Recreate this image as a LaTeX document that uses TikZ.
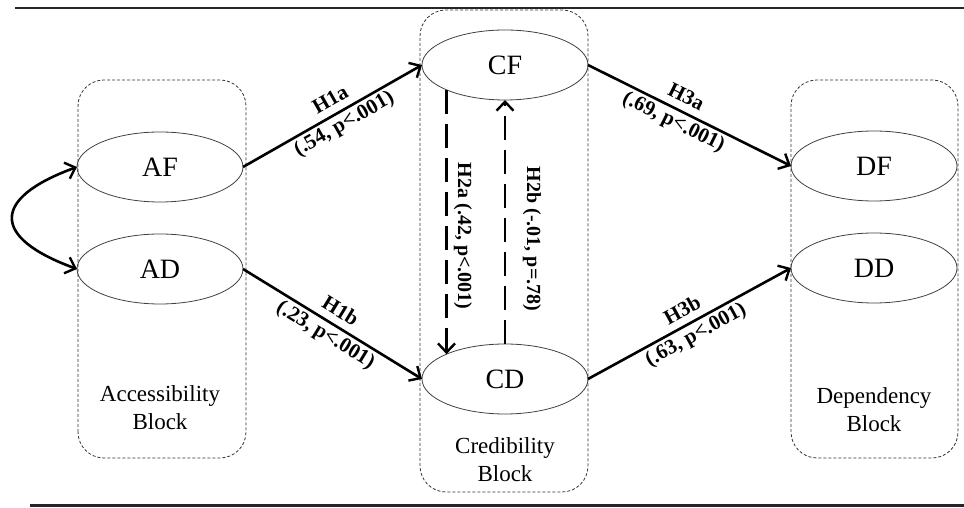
\documentclass[tikz,border=0pt]{standalone}
\usepackage{fontspec}
\setmainfont{Liberation Serif}
\usetikzlibrary{shapes.geometric,arrows.meta}

\tikzset{
  ell/.style={ellipse,draw=black!75,line width=0.8pt,minimum width=166pt,minimum height=70pt,inner sep=0pt,outer sep=0pt,font=\fontsize{28}{30}\selectfont},
  blok/.style={draw=black!80,line width=0.8pt,dash pattern=on 3pt off 2pt,rounded corners=26pt},
  blabel/.style={align=center,font=\fontsize{23}{28}\selectfont},
  hyp/.style={line width=2.6pt,-{Straight Barb[length=9pt,width=17pt,line width=2.4pt]}},
  elabel/.style={midway,sloped,align=center,inner sep=1pt,font=\fontsize{21}{27}\selectfont\bfseries},
  vlabel/.style={rotate=-90,inner sep=1pt,font=\fontsize{20}{24}\selectfont\bfseries},
}

\begin{document}
\begin{tikzpicture}[x=1pt,y=1pt]
\useasboundingbox (0,0) rectangle (964,508);
%Линии сверху и снизу
\draw[line width=2pt,black!85] (15,500)--(964,500);
\draw[line width=3pt,black!85] (30,2)--(964,2);
%Блоки
\draw[blok] (78,50) rectangle (246,428);
\draw[blok] (420,16) rectangle (588,498);
\draw[blok] (791,50) rectangle (958,428);
\node[blabel] (acc) at (160,100) {Accessibility\\Block};
\node[blabel] (cred) at (505,48) {Credibility\\Block};
\node[blabel] (dep) at (874,98) {Dependency\\Block};
%Эллипсы
\node[ell] (AF) at (160,341) {AF};
\node[ell] (AD) at (160,239) {AD};
\node[ell] (CF) at (505,443) {CF};
\node[ell] (CD) at (505,129) {CD};
\node[ell] (DF) at (874,342) {DF};
\node[ell] (DD) at (874,240) {DD};
%Стрелки
\draw[line width=2.6pt,{Straight Barb[length=9pt,width=17pt,line width=2.4pt]}-{Straight Barb[length=9pt,width=17pt,line width=2.4pt]}] (AF.west) to[out=200,in=160,looseness=2.3] (AD.west);
\draw[hyp] (AF.east)--(CF.west) node[elabel,pos=0.53] {H1a\\(.54, p<.001)};
\draw[hyp] (AD.east)--(CD.west) node[elabel] {H1b\\(.23, p<.001)};
\draw[hyp] (CF.east)--(DF.west) node[elabel,pos=0.45] {H3a\\(.69, p<.001)};
\draw[hyp] (CD.east)--(DD.west) node[elabel] {H3b\\(.63, p<.001)};
%Пунктирные стрелки внутри блока
\draw[hyp,dash pattern=on 24pt off 10pt] (CF.203)--(CF.203 |- CD.157);
\draw[hyp,dash pattern=on 24pt off 10pt] (CD.north)--(CF.south);
\node[vlabel] (h2a) at (463,272) {H2a (.42, p<.001)};
\node[vlabel] (h2b) at (532,269) {H2b (-.01, p=.78)};
\end{tikzpicture}
\end{document}
